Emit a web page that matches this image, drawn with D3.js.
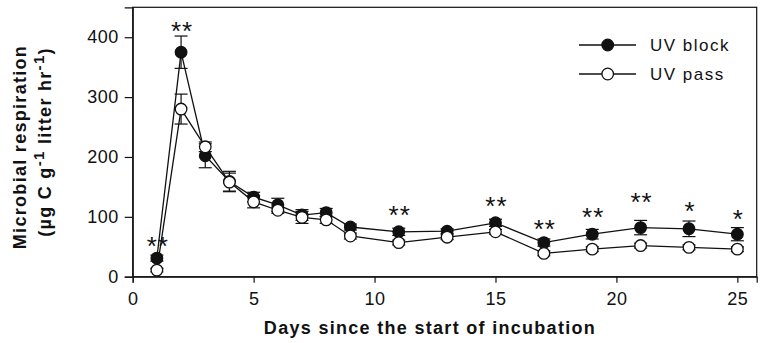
<!DOCTYPE html>
<html><head><meta charset="utf-8">
<script src="https://cdn.jsdelivr.net/npm/d3@7"></script>
<style>body{margin:0;background:#fff}svg{display:block}text{font-family:"Liberation Sans",Arial,sans-serif;fill:#111}</style>
</head><body>
<svg id="c" width="762" height="343"></svg>
<script>
const days = [1,2,3,4,5,6,7,8,9,11,13,15,17,19,21,23,25];
const uvBlock = [31,375,202,159,133,120,103,107,83,75,76,90,57,71,82,80,71];
const uvBlockErr = [5,27,20,17,8,11,9,7,5,6,4,6,6,8,12,13,11];
const uvPass = [11,280,217,158,125,111,99,95,68,57,66,75,39,46,52,49,46];
const uvPassErr = [3,25,8,15,10,5,10,6,5,4,4,4,4,4,4,4,4];
const starDays = [1,2,11,15,17,19,21,23,25];
const starLabels = ["**","**","**","**","**","**","**","*","*"];
const starValues = [61,420,113,128,90,110,135,120,106];
const xTicks = [0,5,10,15,20,25];
const yTicks = [0,100,200,300,400];
const seriesNames = ["UV block","UV pass"];

const svg = d3.select("#c");
const x = d3.scaleLinear().domain([0,25.8]).range([132.7,756.7]);
const y = d3.scaleLinear().domain([0,450]).range([276.7,7.3]);

// frame
svg.append("rect").attr("x",x(0)).attr("y",y(450)).attr("width",x(25.8)-x(0)).attr("height",y(0)-y(450))
  .attr("fill","none").attr("stroke","#111").attr("stroke-width",1.2);

const xAxis = svg.append("g").attr("transform",`translate(0,${y(0)})`)
  .call(d3.axisBottom(x).tickValues(xTicks).tickSize(6).tickPadding(10).tickFormat(d3.format("d")));
const yAxis = svg.append("g").attr("transform",`translate(${x(0)},0)`)
  .call(d3.axisLeft(y).tickValues(yTicks).tickSize(8).tickPadding(6).tickFormat(d3.format("d")));
[xAxis,yAxis].forEach(a=>{
  a.select(".domain").attr("stroke","#111").attr("stroke-width",1.2);
  a.selectAll(".tick line").attr("stroke","#111").attr("stroke-width",1.2);
  a.selectAll(".tick text").attr("font-size",18).attr("font-family","Liberation Sans, Arial, sans-serif").attr("fill","#111").attr("letter-spacing","0.5px");
});

function drawSeries(vals, errs, fill){
  const pts = days.map((d,i)=>({d, v:vals[i], e:errs[i]}));
  svg.append("path").datum(pts).attr("fill","none").attr("stroke","#111").attr("stroke-width",1.3)
    .attr("d", d3.line().x(p=>x(p.d)).y(p=>y(p.v)));
  const g = svg.append("g").attr("stroke","#111").attr("stroke-width",1.2);
  pts.forEach(p=>{
    g.append("line").attr("x1",x(p.d)).attr("x2",x(p.d)).attr("y1",y(p.v-p.e)).attr("y2",y(p.v+p.e));
    [p.v-p.e,p.v+p.e].forEach(v=>g.append("line").attr("x1",x(p.d)-6.5).attr("x2",x(p.d)+6.5).attr("y1",y(v)).attr("y2",y(v)));
  });
  svg.append("g").selectAll("circle").data(pts).join("circle")
    .attr("cx",p=>x(p.d)).attr("cy",p=>y(p.v)).attr("r",5.8)
    .attr("fill",fill).attr("stroke","#111").attr("stroke-width",1.3);
}
drawSeries(uvBlock, uvBlockErr, "#111");
drawSeries(uvPass, uvPassErr, "#fff");

// significance stars
svg.append("g").selectAll("text").data(starDays.map((d,i)=>({d,l:starLabels[i],v:starValues[i]}))).join("text")
  .attr("x",s=>x(s.d)+1).attr("y",s=>y(s.v)+15).attr("text-anchor","middle")
  .attr("font-size",26).attr("letter-spacing","1px").text(s=>s.l);

// legend
const legY = [45,74];
const fills = ["#111","#fff"];
seriesNames.forEach((n,i)=>{
  svg.append("line").attr("x1",579).attr("x2",636).attr("y1",legY[i]).attr("y2",legY[i]).attr("stroke","#111").attr("stroke-width",1.3);
  svg.append("circle").attr("cx",607.7).attr("cy",legY[i]).attr("r",5.8).attr("fill",fills[i]).attr("stroke","#111").attr("stroke-width",1.3);
  svg.append("text").attr("x",650).attr("y",legY[i]+6).attr("font-size",17).attr("letter-spacing","1.5px").text(n);
});

// axis titles
svg.append("text").attr("x",430).attr("y",334).attr("text-anchor","middle").attr("font-size",18)
  .attr("font-weight","bold").attr("letter-spacing","1.3px").text("Days since the start of incubation");
svg.append("text").attr("transform","translate(26,147) rotate(-90)").attr("text-anchor","middle")
  .attr("font-size",18).attr("font-weight","bold").attr("letter-spacing","1.3px").text("Microbial respiration");
const t2 = svg.append("text").attr("transform","translate(51,142) rotate(-90)").attr("text-anchor","middle")
  .attr("font-size",18).attr("font-weight","bold").attr("letter-spacing","1.3px");
t2.append("tspan").text("(µg C g");
t2.append("tspan").attr("dy",-7).attr("font-size",15).text("-1");
t2.append("tspan").attr("dy",7).text(" litter hr");
t2.append("tspan").attr("dy",-7).attr("font-size",15).text("-1");
t2.append("tspan").attr("dy",7).text(")");
</script>
</body></html>
